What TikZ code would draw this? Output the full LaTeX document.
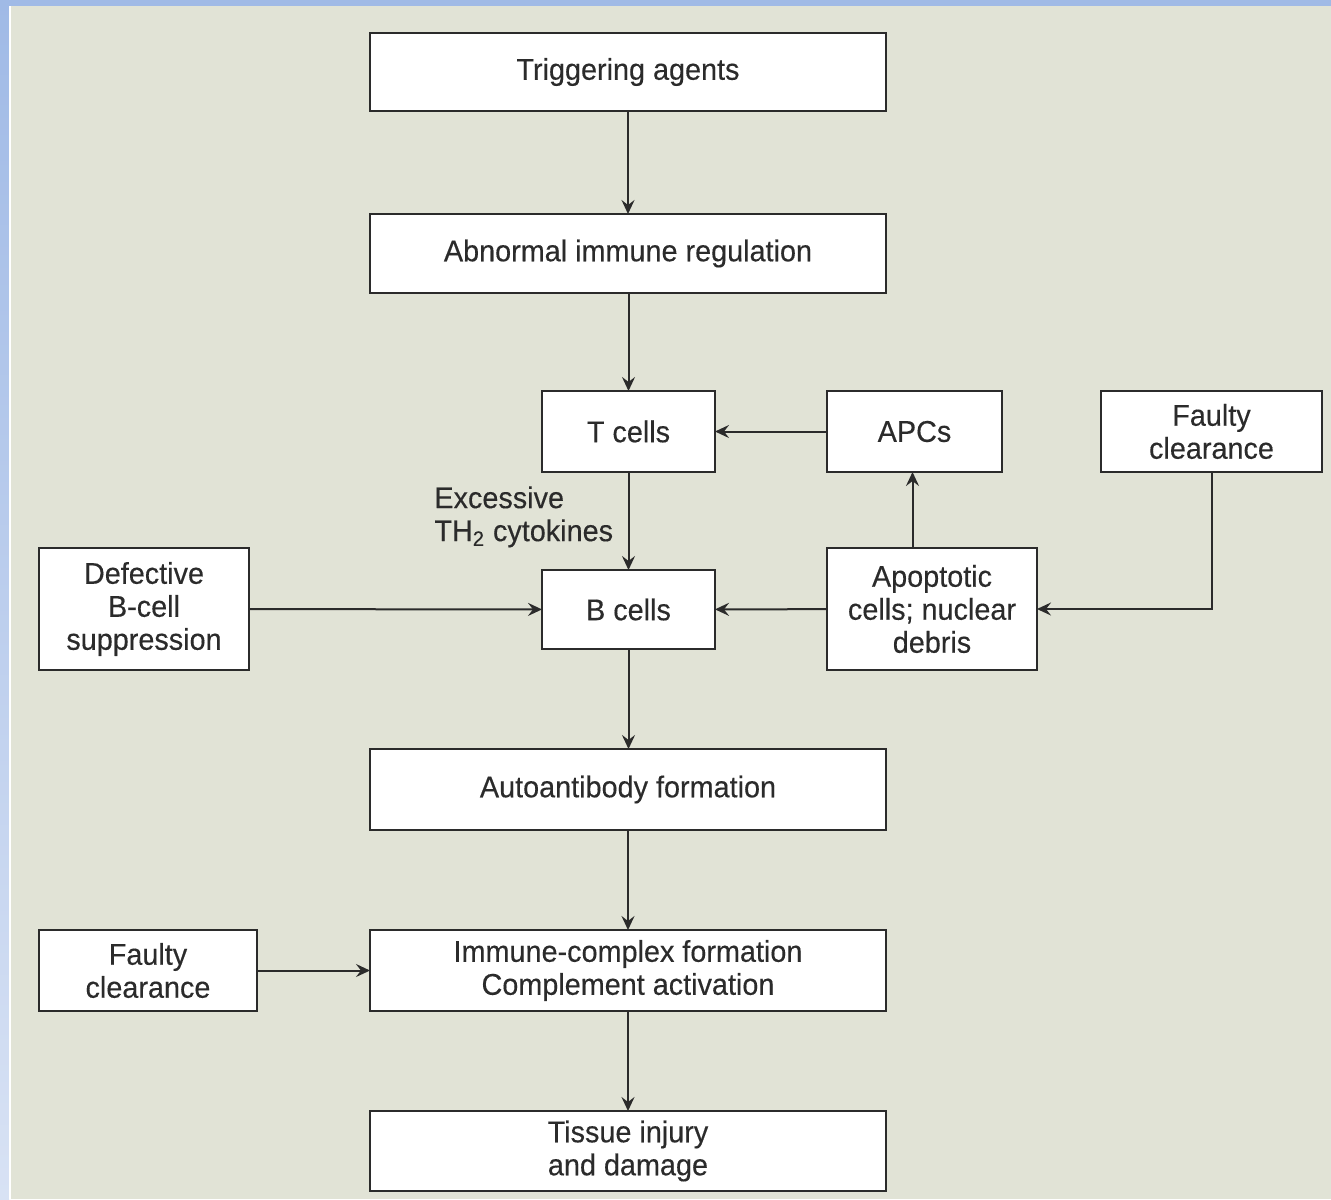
\documentclass[tikz,border=0pt]{standalone}
\usepackage{fontspec}
\setmainfont{Liberation Sans}[FakeStretch=0.96,FakeBold=0.3]
\usetikzlibrary{arrows.meta,calc}
\definecolor{bgc}{HTML}{E1E3D6}
\definecolor{frametop}{HTML}{A0BAE6}
\definecolor{framebot}{HTML}{D8E2F4}
\definecolor{ink}{HTML}{2B2B2B}
\tikzset{
  box/.style={draw=ink, line width=1pt, fill=white, inner sep=0pt, outer sep=0pt,
    align=center, text=ink, font=\fontsize{15pt}{16.5pt}\selectfont},
  arr/.style={draw=ink, line width=1pt, -{Stealth[length=7pt,width=6.5pt,inset=2.5pt]}},
  lbl/.style={text=ink, align=left, inner sep=0pt, font=\fontsize{15pt}{16.5pt}\selectfont}
}
\begin{document}
\begin{tikzpicture}[x=0.5pt,y=-0.5pt]
\useasboundingbox (0,0) rectangle (1331,1199);
% frame
\shade[top color=frametop, bottom color=framebot] (0,0) rectangle (9,1199);
\fill[frametop] (0,0) rectangle (1331,6);
\fill[white] (9,6) rectangle (11,1199);
\fill[bgc] (11,6) rectangle (1331,1199);
% nodes
\node[box, minimum width=258pt, minimum height=39pt] (trig) at (628,72) {Triggering agents};
\node[box, minimum width=258pt, minimum height=39.5pt] (abn) at (628,253.5) {Abnormal immune regulation};
\node[box, minimum width=86.5pt, minimum height=40.5pt] (t) at (628.5,431.5) {T cells};
\node[box, minimum width=87.5pt, minimum height=40.5pt] (apc) at (914.5,431.5) {APCs};
\node[box, minimum width=110.5pt, minimum height=40.5pt] (fr) at (1211.5,431.5) {Faulty\\clearance};
\node[box, minimum width=105pt, minimum height=61pt] (def) at (144,609) {Defective\\B-cell\\suppression};
\node[box, minimum width=86.5pt, minimum height=39.5pt] (b) at (628.5,609.5) {B cells};
\node[box, minimum width=105pt, minimum height=61pt] (apo) at (932,609) {Apoptotic\\cells; nuclear\\debris};
\node[box, minimum width=258pt, minimum height=40.5pt] (auto) at (628,789.5) {Autoantibody formation};
\node[box, minimum width=109pt, minimum height=40.5pt] (fl) at (148,970.5) {Faulty\\clearance};
\node[box, minimum width=258pt, minimum height=40.5pt] (imm) at (628,970.5) {Immune-complex formation\\Complement activation};
\node[box, minimum width=258pt, minimum height=40pt] (tis) at (628,1151) {Tissue injury\\and damage};
\node[lbl, anchor=north west] (th) at (434,486) {Excessive\\TH\textsubscript{2} cytokines};
% connectors
\draw[arr] (trig) -- (abn);
\draw[arr] (abn.south -| t) -- (t);
\draw[arr] (t) -- (b);
\draw[arr] (apc) -- (t);
\draw[arr] (apo.north -| apc.south) ++(-2,0) coordinate (apotop) -- (apotop |- apc.south);
\draw[arr] (apo) -- (b);
\draw[arr] (fr.south) |- (apo.east);
\draw[arr] (def) -- (b);
\draw[arr] (b) -- (b |- auto.north);
\draw[arr] (auto) -- (imm);
\draw[arr] (fl) -- (imm);
\draw[arr] (imm) -- (tis);
\end{tikzpicture}
\end{document}
